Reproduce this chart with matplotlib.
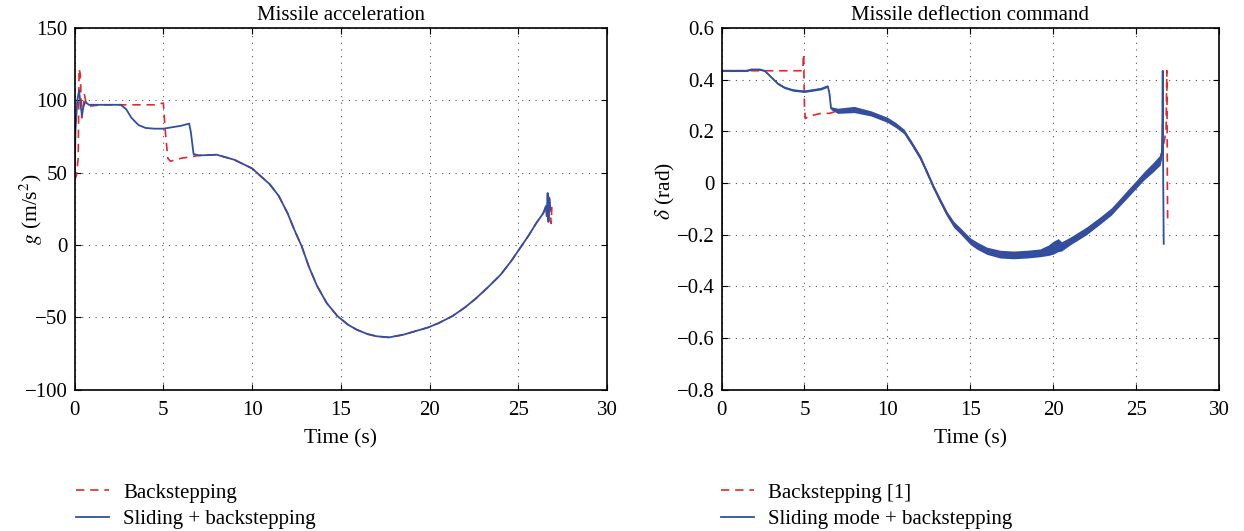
import numpy as np
import matplotlib
matplotlib.use("Agg")
import matplotlib.pyplot as plt

plt.rcParams["font.family"] = ["Liberation Serif", "DejaVu Serif"]
plt.rcParams["mathtext.fontset"] = "stix"

# ---- Missile acceleration (m/s^2) ----
sl_acc_t = [0.0, 0.05, 0.15, 0.25, 0.35, 0.42, 0.5, 0.6, 0.8, 1.5, 2.6, 2.9, 3.2, 3.6, 4.0,
            4.5, 5.0, 5.5, 6.0, 6.45, 6.55, 6.7, 7.0]
sl_acc_g = [50, 80, 100, 107, 95, 90, 96, 99, 97, 97, 97, 94, 88, 83, 81,
            80.5, 80.5, 81.5, 82.5, 84, 78, 63, 62]
bs_acc_t = [0.0, 0.1, 0.2, 0.25, 0.32, 0.4, 0.48, 0.55, 0.65, 0.8, 1.5, 3.0, 4.5, 4.9,
            5.0, 5.1, 5.25, 5.4, 6.0, 7.0]
bs_acc_g = [45, 48, 60, 122, 118, 88, 95, 104, 98, 96, 97, 97, 97, 98,
            98, 80, 60, 58, 60, 62]
# common part (both controllers overlap)
acc_tail_t = [8.0, 9.0, 10.0, 11.0, 11.5, 12.0, 12.4, 12.8, 13.2, 13.65, 14.2, 14.8, 15.4,
              15.9, 16.5, 17.0, 17.7, 18.5, 19.2, 19.9, 20.5, 21.3, 22.0, 22.6, 23.3,
              24.0, 24.6, 25.1, 25.6, 26.0, 26.4]
acc_tail_g = [62.5, 59, 53, 42, 34, 22, 10, -1, -15, -28, -40, -49, -55,
              -58.5, -61.5, -63, -63.8, -62, -59.5, -57, -54, -49, -43, -37, -29,
              -20.5, -11, -2, 7, 15, 22]
sl_acc_end_t = [26.55, 26.6, 26.65, 26.7, 26.75, 26.8]
sl_acc_end_g = [27, 20, 36, 16, 32, 25]
bs_acc_end_t = [26.6, 26.7, 26.75, 26.85, 26.9]
bs_acc_end_g = [26, 15, 33, 15, 30]

# ---- Missile deflection command (rad) ----
sl_def_t = [0.0, 0.02, 1.5, 1.8, 2.3, 2.6, 3.0, 3.4, 3.8, 4.3, 5.0, 5.5, 6.0, 6.4, 6.5, 6.6,
            7.0, 8.0, 9.0, 10.0, 10.5, 11.0, 11.5, 12.0, 12.4, 12.8, 13.2, 13.6, 14.0,
            14.4, 15.0, 15.4, 16.0, 16.8, 17.6, 18.4, 19.2, 19.7, 20.0, 20.3, 20.5, 21.0,
            22.0, 22.8, 23.5, 24.0, 24.5, 25.0, 25.5, 26.0, 26.45, 26.55]
sl_def_d = [-0.36, 0.435, 0.435, 0.44, 0.44, 0.435, 0.41, 0.385, 0.37, 0.36, 0.355, 0.36,
            0.365, 0.375, 0.35, 0.29, 0.28, 0.285, 0.27, 0.245, 0.225, 0.2, 0.15, 0.097,
            0.04, -0.018, -0.07, -0.12, -0.16, -0.185, -0.225, -0.242, -0.262, -0.275,
            -0.278, -0.275, -0.27, -0.26, -0.25, -0.24, -0.245, -0.225, -0.185, -0.146,
            -0.11, -0.075, -0.04, -0.005, 0.03, 0.06, 0.09, 0.12]
# half-width of the chattering band around the sliding-mode command
sl_def_spread = [0.0, 0.003, 0.003, 0.003, 0.003, 0.003, 0.003, 0.004, 0.004, 0.004, 0.004,
                 0.004, 0.004, 0.004, 0.004, 0.006, 0.01, 0.012, 0.01, 0.01, 0.01, 0.009,
                 0.009, 0.009, 0.009, 0.009, 0.01, 0.01, 0.012, 0.012, 0.013, 0.014, 0.014,
                 0.015, 0.015, 0.015, 0.015, 0.02, 0.025, 0.025, 0.018, 0.015, 0.015,
                 0.014, 0.014, 0.014, 0.015, 0.015, 0.016, 0.018, 0.02, 0.02]
sl_def_end_t = [26.58, 26.6, 26.63, 26.66]
sl_def_end_d = [0.25, 0.435, 0.0, -0.235]
bs_def_t = [0.0, 0.02, 4.9, 4.95, 5.0, 5.05, 5.3, 6.0, 6.5, 7.0]
bs_def_d = [-0.44, 0.435, 0.435, 0.5, 0.3, 0.25, 0.26, 0.27, 0.27, 0.28]
bs_def_end_t = [26.5, 26.8, 26.85, 26.88, 26.9]
bs_def_end_d = [0.1, 0.2, 0.435, 0.0, -0.16]

red = "#e8262a"
blue = "#2f4fa2"

fig = plt.figure(figsize=(12.44, 5.31), dpi=100)
ax1 = fig.add_axes([0.060, 0.266, 0.428, 0.681])
ax2 = fig.add_axes([0.580, 0.266, 0.400, 0.681])


def style(ax, ylim, yticks, ylabel, title, xlab, ylab):
    ax.set_xlim(0, 30)
    ax.set_ylim(*ylim)
    ax.set_xticks(range(0, 31, 5))
    ax.set_yticks(yticks)
    ax.grid(True, color="#555555", linestyle=(0, (1, 5)), linewidth=0.8)
    ax.tick_params(direction="in", top=True, right=True, labelsize=15, length=4)
    ax.tick_params(axis="y", pad=5)
    ax.tick_params(axis="x", pad=8)
    for s in ax.spines.values():
        s.set_linewidth(1.2)
    ax.set_xlabel("Time (s)", fontsize=15.5, labelpad=7)
    ax.set_ylabel(ylabel, fontsize=15.5)
    ax.yaxis.set_label_coords(xlab, ylab)
    ax.set_title(title, fontsize=15, pad=6)


# left panel
bs_t = bs_acc_t + acc_tail_t + bs_acc_end_t
bs_g = bs_acc_g + acc_tail_g + bs_acc_end_g
sl_t = sl_acc_t + acc_tail_t + sl_acc_end_t
sl_g = sl_acc_g + acc_tail_g + sl_acc_end_g
ax1.plot(bs_t, bs_g, color=red, linestyle="--", dashes=(5, 3.5), linewidth=1.2,
         label="Backstepping")
ax1.plot(sl_t, sl_g, color=blue, linewidth=1.3, label="Sliding + backstepping")
style(ax1, (-100, 150), [-100, -50, 0, 50, 100, 150],
      r"$g$ (m/s$^2$)", "Missile acceleration", -0.056, 0.5)
ax1.set_yticklabels(["\u2212100", "\u221250", "0", "50", "100", "150"])

# right panel
bs2_t = bs_def_t + sl_def_t[16:] + bs_def_end_t
bs2_d = bs_def_d + sl_def_d[16:] + bs_def_end_d
ax2.plot(bs2_t, bs2_d, color=red, linestyle="--", dashes=(5, 3.5), linewidth=1.2,
         label="Backstepping [1]")
lo = np.array(sl_def_d) - np.array(sl_def_spread)
hi = np.array(sl_def_d) + np.array(sl_def_spread)
ax2.fill_between(sl_def_t, lo, hi, color=blue, linewidth=0)
ax2.plot(sl_def_t + sl_def_end_t, sl_def_d + sl_def_end_d, color=blue, linewidth=1.3,
         label="Sliding mode + backstepping")
style(ax2, (-0.8, 0.6), np.arange(-0.8, 0.61, 0.2), r"$\delta$ (rad)",
      "Missile deflection command", -0.09, 0.55)
ax2.set_yticklabels(["\u22120.8", "\u22120.6", "\u22120.4", "\u22120.2", "0",
                     "0.2", "0.4", "0.6"])

for ax, x0 in ((ax1, 0.049), (ax2, 0.5675)):
    h, l = ax.get_legend_handles_labels()
    fig.legend(h, l, loc="upper left", bbox_to_anchor=(x0, 0.118), frameon=False,
               fontsize=15, handlelength=1.6, handletextpad=0.7, labelspacing=0.35,
               borderpad=0.2)

fig.savefig("out.png", dpi=100)
